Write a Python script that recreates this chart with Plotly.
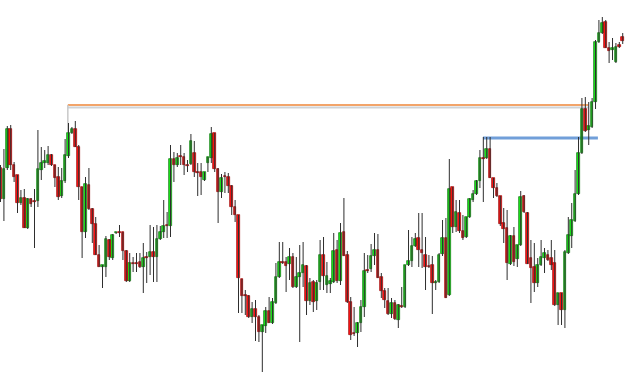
import plotly.graph_objects as go

# OHLC data (arbitrary price units)
opens = [205,174,205,244,208,198,170,175,145,174,172,172,203,210,210,218,208,196,177,192,
         217,240,244,226,186,141,188,164,149,118,106,106,133,115,140,141,141,122,92,110,
         110,111,106,116,116,121,116,134,141,148,147,214,208,217,216,208,209,220,201,201,
         193,210,215,240,204,181,197,196,187,166,158,94,78,77,56,64,56,41,47,62,
         50,70,96,111,111,109,116,86,96,100,107,72,91,72,91,118,88,89,91,123,
         92,141,118,71,40,40,50,66,103,104,117,123,96,82,72,59,70,53,67,66,
         108,112,127,135,123,118,107,108,90,91,119,135,78,186,146,160,142,136,156,173,
         179,192,215,215,224,195,185,177,150,145,109,137,114,128,177,160,115,106,90,108,
         115,118,115,110,68,80,63,120,137,152,179,220,264,243,246,271,331,340,351,325,
         323,311,328,336]
highs = [208,224,247,248,211,198,183,184,175,175,184,243,226,223,227,219,208,206,205,234,
         250,246,252,228,186,196,205,165,156,128,108,137,134,139,141,148,141,123,120,116,
         120,120,130,121,148,146,148,147,173,161,228,221,220,228,220,213,239,232,210,210,
         201,216,246,240,205,199,201,200,188,173,158,94,83,78,71,73,58,48,66,76,
         75,110,131,131,116,125,120,116,128,131,108,95,93,93,133,136,111,95,140,133,
         150,175,122,76,66,51,73,120,118,129,140,139,100,85,85,75,73,69,86,108,
         143,136,140,160,160,136,118,117,93,120,153,155,214,186,173,173,158,156,175,183,
         193,223,236,236,236,195,190,177,165,163,138,146,128,182,178,161,133,130,115,133,
         125,123,133,123,80,80,123,156,170,203,236,275,276,271,275,333,353,356,353,331,
         335,330,331,340]
lows = [171,152,203,203,191,160,168,145,144,166,125,166,193,205,208,207,186,173,175,190,
        215,239,226,173,115,135,163,130,118,106,85,96,113,113,139,136,113,91,91,101,
        101,105,80,90,98,91,91,133,135,135,136,191,206,208,198,201,208,196,177,178,
        192,201,210,201,150,175,180,180,158,151,60,60,58,55,50,32,31,1,40,50,
        49,69,95,109,81,93,85,85,31,86,58,68,61,63,83,83,80,80,90,90,
        88,117,70,33,37,26,41,56,100,101,108,95,75,65,58,55,53,45,65,65,
        107,106,126,106,105,83,105,59,83,90,117,75,77,140,141,140,133,135,155,171,
        178,185,171,214,195,175,176,147,130,93,108,107,106,127,160,109,70,81,86,107,
        100,112,103,67,48,48,45,119,125,151,178,219,241,228,245,264,330,339,325,310,
        313,310,325,329]
closes = [174,204,244,208,196,170,175,145,174,169,171,204,210,212,218,208,195,176,192,218,
          240,244,226,186,141,189,164,149,118,106,108,134,116,138,141,140,122,92,110,109,
          109,106,115,115,121,116,134,141,147,147,214,208,215,216,208,207,232,201,200,196,
          201,216,239,204,181,195,196,187,166,158,95,77,77,56,64,56,41,48,62,50,
          71,96,111,110,107,116,86,96,100,108,72,90,71,90,118,97,97,92,122,92,
          140,117,71,38,39,50,66,102,102,117,123,95,82,73,59,70,54,68,66,108,
          112,127,134,123,120,106,106,90,91,118,135,75,184,146,161,142,135,156,174,179,
          192,215,214,224,195,185,177,149,144,110,137,111,128,176,161,109,105,90,108,116,
          120,113,108,68,80,63,121,138,153,179,220,264,242,247,271,331,340,350,325,322,
          325,326,326,332]

# reference levels drawn on the chart
upper_level = 268
upper_level_shadow = 265.5
upper_start, upper_end = 19.8, 172.9
lower_level = 235
lower_start, lower_end = 141.9, 175.7

idx = list(range(len(opens)))

# wicks
wx, wy = [], []
for i, h, l in zip(idx, highs, lows):
    wx += [i, i, None]
    wy += [l, h, None]

fig = go.Figure()
fig.add_trace(go.Scatter(x=wx, y=wy, mode="lines",
                         line=dict(color="#2e2e2e", width=1),
                         hoverinfo="skip", showlegend=False))

up_x, up_b, up_h = [], [], []
dn_x, dn_b, dn_h = [], [], []
for i, o, c in zip(idx, opens, closes):
    base = min(o, c)
    hgt = max(abs(c - o), 1)
    if c >= o:
        up_x.append(i); up_b.append(base); up_h.append(hgt)
    else:
        dn_x.append(i); dn_b.append(base); dn_h.append(hgt)

fig.add_trace(go.Bar(x=up_x, y=up_h, base=up_b, width=0.8,
                     marker=dict(color="#1aea1a", line=dict(color="#0a700a", width=0.7)),
                     showlegend=False, hoverinfo="skip"))
fig.add_trace(go.Bar(x=dn_x, y=dn_h, base=dn_b, width=0.8,
                     marker=dict(color="#ff1414", line=dict(color="#960000", width=0.7)),
                     showlegend=False, hoverinfo="skip"))

shapes = [
    dict(type="line", xref="x", yref="y", x0=upper_start, x1=upper_end,
         y0=upper_level_shadow, y1=upper_level_shadow,
         line=dict(color="#cfd3d8", width=2), layer="below"),
    dict(type="line", xref="x", yref="y", x0=upper_start, x1=upper_end,
         y0=upper_level, y1=upper_level,
         line=dict(color="#f2a46a", width=2), layer="below"),
    dict(type="line", xref="x", yref="y", x0=upper_start, x1=upper_start,
         y0=upper_level, y1=241,
         line=dict(color="#c8c8c8", width=1.5), layer="below"),
    dict(type="line", xref="x", yref="y", x0=lower_start, x1=lower_end,
         y0=lower_level, y1=lower_level,
         line=dict(color="#719fd9", width=3), layer="below"),
]

fig.update_layout(
    width=625, height=373,
    margin=dict(l=0, r=0, t=0, b=0),
    paper_bgcolor="white", plot_bgcolor="white",
    barmode="overlay", bargap=0,
    shapes=shapes,
    xaxis=dict(visible=False, range=[-0.15, 183.67], fixedrange=True),
    yaxis=dict(visible=False, range=[0, 373], fixedrange=True),
    showlegend=False,
)

fig.write_html("out.html")
